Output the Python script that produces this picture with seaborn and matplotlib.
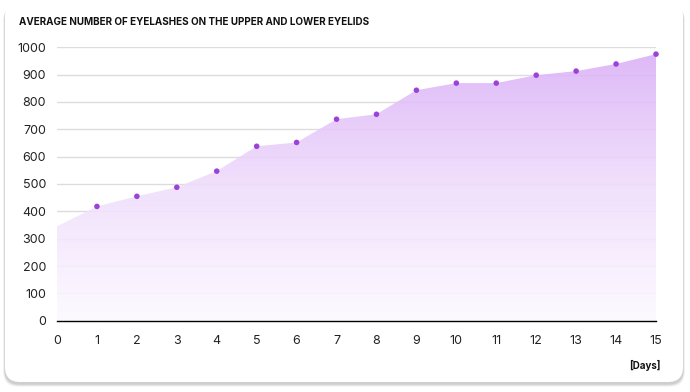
import numpy as np
import pandas as pd
import matplotlib
matplotlib.use("Agg")
import matplotlib.pyplot as plt
import seaborn as sns
from matplotlib.patches import FancyBboxPatch
from matplotlib.colors import LinearSegmentedColormap

# ---------------- data ----------------
days = [0, 1, 2, 3, 4, 5, 6, 7, 8, 9, 10, 11, 12, 13, 14, 15]
eyelashes = [345, 418, 455, 488, 547, 638, 652, 737, 755, 843, 869, 869, 898, 913, 939, 975]
y_ticks = [0, 100, 200, 300, 400, 500, 600, 700, 800, 900, 1000]

TITLE = "AVERAGE NUMBER OF EYELASHES ON THE UPPER AND LOWER EYELIDS"
X_UNIT = "[Days]"

df = pd.DataFrame({"day": days, "value": eyelashes})

# ---------------- style ----------------
sns.set_style("white")
plt.rcParams["font.family"] = ["Inter", "DejaVu Sans"]

fig = plt.figure(figsize=(6.9, 3.92), dpi=100)
fig.patch.set_facecolor("white")

# card + soft shadow (display pixels, origin bottom-left)
for i, a in enumerate([0.025, 0.03, 0.04, 0.05, 0.06]):
    grow = 5 - i
    fig.patches.append(FancyBboxPatch(
        (5 - grow * 0.4, 10 - 2 - grow * 0.6), 678 + grow * 0.8, 381, boxstyle="round,pad=0,rounding_size=15",
        transform=None, facecolor="#000000", edgecolor="none", alpha=a, zorder=0))
fig.patches.append(FancyBboxPatch(
    (5, 10), 678, 381, boxstyle="round,pad=0,rounding_size=15",
    transform=None, facecolor="white", edgecolor="none", zorder=1))

ax = fig.add_axes([57 / 690, (392 - 320.7) / 392, (656 - 57) / 690, (320.7 - 47.3) / 392])
ax.set_facecolor("none")
ax.set_zorder(2)

# gridlines
ax.set_ylim(0, 1000)
ax.set_xlim(0, 15)
ax.set_yticks(y_ticks)
ax.set_xticks(days)
ax.grid(axis="y", color="#dcdcdc", linewidth=1)
ax.grid(axis="x", visible=False)
ax.set_axisbelow(True)

# gradient area
poly = ax.fill_between(df["day"], df["value"], 0, facecolor="none", edgecolor="none")
cmap = LinearSegmentedColormap.from_list("lav", ["#fdfaff", "#efdcfc", "#d9adf7"])
grad = np.linspace(0, 1, 256).reshape(-1, 1)
img = ax.imshow(grad, extent=[0, 15, 0, 1000], origin="lower", aspect="auto",
                cmap=cmap, alpha=0.88, zorder=1)
img.set_clip_path(poly.get_paths()[0], transform=ax.transData)

# markers (day 0 has no marker)
sns.scatterplot(data=df[df["day"] > 0], x="day", y="value", ax=ax, color="#9b42d8",
                s=16, edgecolor="none", zorder=3, clip_on=False, legend=False)

# axes styling
sns.despine(ax=ax, left=True, top=True, right=True)
ax.spines["bottom"].set_color("black")
ax.spines["bottom"].set_linewidth(1)
ax.tick_params(axis="x", length=6, width=1, color="black", direction="out",
               labelsize=9, pad=4, labelcolor="#222222")
ax.tick_params(axis="y", length=0, labelsize=9, pad=8, labelcolor="#222222")
ax.set_xlabel("")
ax.set_ylabel("")

fig.text(19 / 690, 1 - 22 / 392, TITLE, fontsize=7.1, fontweight="bold",
         va="center", ha="left", color="#111111")
fig.text(660 / 690, 1 - 365 / 392, X_UNIT, fontsize=7, fontweight="bold",
         va="center", ha="right", color="#111111")

fig.savefig("out.png", dpi=100, facecolor="white")
